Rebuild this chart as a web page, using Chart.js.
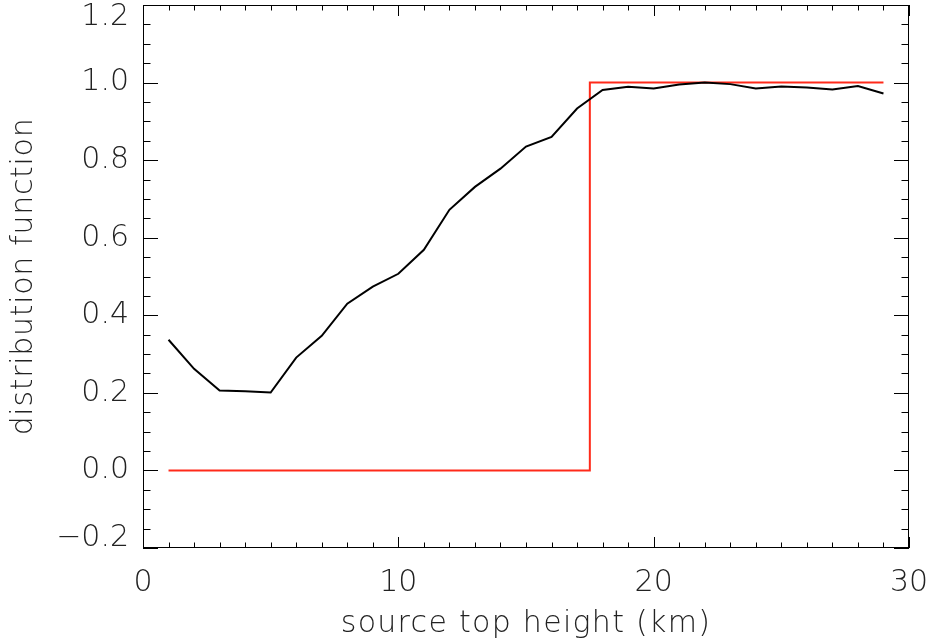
<!DOCTYPE html>
<html>
<head>
<meta charset="utf-8">
<script src="https://cdn.jsdelivr.net/npm/chart.js@4.4.1/dist/chart.umd.min.js"></script>
<style>
  body { margin: 0; background: #fff; }
  canvas { display: block; }
</style>
</head>
<body>
<canvas id="dist" width="935" height="643"></canvas>
<script>
// source top height (km) and the computed distribution
var heights = [1, 2, 3, 4, 5, 6, 7, 8, 9, 10, 11, 12, 13, 14, 15, 16, 17, 18, 19, 20, 21, 22, 23, 24, 25, 26, 27, 28, 29];
var distribution = [0.337, 0.262, 0.206, 0.204, 0.201, 0.291, 0.347, 0.430, 0.474, 0.507, 0.569, 0.672, 0.731, 0.778, 0.835, 0.860, 0.933, 0.981, 0.989, 0.985, 0.995, 1.000, 0.996, 0.985, 0.990, 0.987, 0.982, 0.991, 0.972];

// step reference
var stepX = [1, 17.5, 17.5, 29];
var stepY = [0, 0, 1, 1];

// tick labels
var xTicks = [0, 10, 20, 30];
var yTicks = [-0.2, 0, 0.2, 0.4, 0.6, 0.8, 1.0, 1.2];

var labelFont = '200 30px "DejaVu Sans"';
var textColor = '#222';

function pts(xs, ys) {
    var out = [];
    for (var i = 0; i < xs.length; i++) out.push({x: xs[i], y: ys[i]});
    return out;
}

function fmt(v) {
    var s = v.toFixed(1);
    return v < 0 ? '\u2212' + s.substring(1) : s;
}

// box, inward ticks, labels, axis titles
var frame = {
    id: 'frame',
    afterDraw: function(chart) {
        var ctx = chart.ctx, a = chart.chartArea;
        var xs = chart.scales.x, ys = chart.scales.y;
        ctx.save();
        ctx.strokeStyle = '#000';
        ctx.lineWidth = 1;
        ctx.strokeRect(a.left + 0.5, a.top + 0.5, a.right - a.left - 1, a.bottom - a.top - 1);

        ctx.beginPath();
        for (var i = 0; i <= 30; i++) {
            var px = Math.round(xs.getPixelForValue(i)) + 0.5;
            var len = (i % 10 === 0) ? 11 : 5.5;
            ctx.moveTo(px, a.bottom); ctx.lineTo(px, a.bottom - len);
            ctx.moveTo(px, a.top); ctx.lineTo(px, a.top + len);
        }
        for (var j = 0; j <= 28; j++) {
            var v = -0.2 + j * 0.05;
            var py = Math.round(ys.getPixelForValue(v)) + 0.5;
            var l = (j % 4 === 0) ? 15 : 7.5;
            ctx.moveTo(a.left, py); ctx.lineTo(a.left + l, py);
            ctx.moveTo(a.right, py); ctx.lineTo(a.right - l, py);
        }
        ctx.stroke();

        ctx.fillStyle = textColor;
        ctx.font = labelFont;
        ctx.textAlign = 'right';
        ctx.textBaseline = 'middle';
        yTicks.forEach(function(t) {
            var py = ys.getPixelForValue(t);
            py = Math.min(Math.max(py, a.top + 12), a.bottom - 10);
            ctx.fillText(fmt(t), 129, py);
        });
        ctx.textAlign = 'center';
        xTicks.forEach(function(t) {
            ctx.fillText(String(t), xs.getPixelForValue(t), a.bottom + 35);
        });

        ctx.letterSpacing = '1.3px';
        ctx.fillText('source top height (km)', (a.left + a.right) / 2, 624);
        ctx.letterSpacing = '0.7px';
        ctx.translate(24, (a.top + a.bottom) / 2);
        ctx.rotate(-Math.PI / 2);
        ctx.fillText('distribution function', 0, 0);
        ctx.restore();
    }
};

new Chart(document.getElementById('dist'), {
    type: 'line',
    data: {
        datasets: [
            {
                label: 'distribution',
                data: pts(heights, distribution),
                borderColor: '#000',
                borderWidth: 2,
                pointRadius: 0,
                tension: 0
            },
            {
                label: 'step',
                data: pts(stepX, stepY),
                borderColor: '#ff2a1a',
                borderWidth: 2,
                pointRadius: 0,
                tension: 0
            }
        ]
    },
    options: {
        responsive: false,
        animation: false,
        layout: { padding: { left: 143, right: 26, top: 5, bottom: 95 } },
        plugins: { legend: { display: false }, tooltip: { enabled: false } },
        scales: {
            x: { type: 'linear', min: 0, max: 30, display: false },
            y: { type: 'linear', min: -0.2, max: 1.2, display: false }
        }
    },
    plugins: [frame]
});
</script>
</body>
</html>
